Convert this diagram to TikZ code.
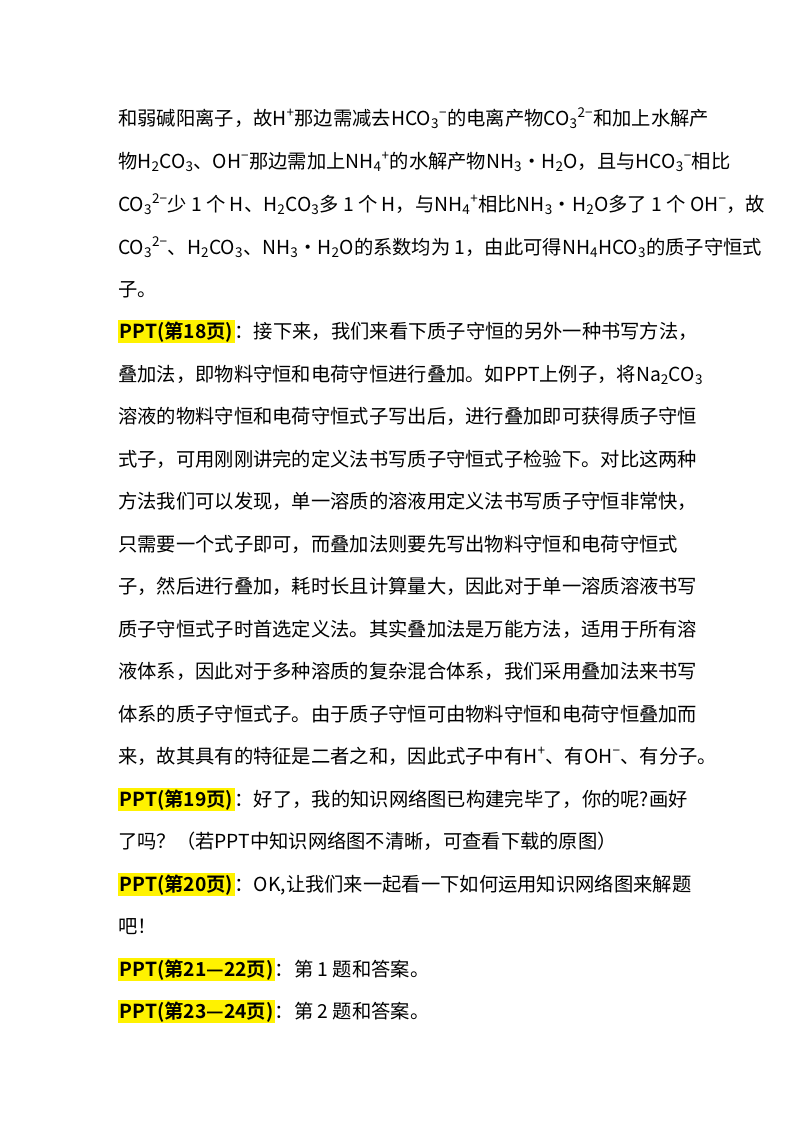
\documentclass[tikz,border=0pt]{standalone}
\usepackage{fontspec}
\setmainfont{Noto Sans CJK SC}[BoldFont={Noto Sans CJK SC Bold}]
\newcommand{\up}[1]{\textsuperscript{#1}}
\newcommand{\dn}[1]{\textsubscript{#1}}
\newcommand{\hl}[1]{{\setlength{\fboxsep}{1.5pt}\colorbox{yellow}{\bfseries #1}}}
\tikzset{ln/.style={anchor=base west,inner sep=0pt,font=\fontsize{19.3pt}{20pt}\selectfont}}
\begin{document}
\begin{tikzpicture}[x=1pt,y=1pt]
\fill[white] (0,0) rectangle (800,-1132);
\useasboundingbox (0,0) rectangle (800,-1132);
\def\L#1#2{\node[ln] (n#1) at (118,-#1-7) {#2};}
\L{118}{和弱碱阳离子，故H\up{+}那边需减去HCO\dn{3}\up{−}的电离产物CO\dn{3}\up{2−}和加上水解产}
\L{161}{物H\dn{2}CO\dn{3}、OH\up{−}那边需加上NH\dn{4}\up{+}的水解产物NH\dn{3}•H\dn{2}O，且与HCO\dn{3}\up{−}相比}
\L{204}{CO\dn{3}\up{2−}少 1 个 H、H\dn{2}CO\dn{3}多 1 个 H，与NH\dn{4}\up{+}相比NH\dn{3}•H\dn{2}O多了 1 个 OH\up{−}，故}
\L{247}{CO\dn{3}\up{2−}、H\dn{2}CO\dn{3}、NH\dn{3}•H\dn{2}O的系数均为 1，由此可得NH\dn{4}HCO\dn{3}的质子守恒式}
\L{289}{子。}
\L{331}{\hl{PPT(第18页)}：接下来，我们来看下质子守恒的另外一种书写方法，}
\L{374}{叠加法，即物料守恒和电荷守恒进行叠加。如PPT上例子，将Na\dn{2}CO\dn{3}}
\L{416}{溶液的物料守恒和电荷守恒式子写出后，进行叠加即可获得质子守恒}
\L{459}{式子，可用刚刚讲完的定义法书写质子守恒式子检验下。对比这两种}
\L{501}{方法我们可以发现，单一溶质的溶液用定义法书写质子守恒非常快，}
\L{544}{只需要一个式子即可，而叠加法则要先写出物料守恒和电荷守恒式}
\L{586}{子，然后进行叠加，耗时长且计算量大，因此对于单一溶质溶液书写}
\L{629}{质子守恒式子时首选定义法。其实叠加法是万能方法，适用于所有溶}
\L{671}{液体系，因此对于多种溶质的复杂混合体系，我们采用叠加法来书写}
\L{714}{体系的质子守恒式子。由于质子守恒可由物料守恒和电荷守恒叠加而}
\L{756}{来，故其具有的特征是二者之和，因此式子中有H\up{+}、有OH\up{−}、有分子。}
\L{799}{\hl{PPT(第19页)}：好了，我的知识网络图已构建完毕了，你的呢?画好}
\L{841}{了吗？（若PPT中知识网络图不清晰，可查看下载的原图）}
\L{884}{\hl{PPT(第20页)}：OK,让我们来一起看一下如何运用知识网络图来解题}
\L{926}{吧！}
\L{969}{\hl{PPT(第21—22页)}：第 1 题和答案。}
\L{1011}{\hl{PPT(第23—24页)}：第 2 题和答案。}
\end{tikzpicture}
\end{document}
